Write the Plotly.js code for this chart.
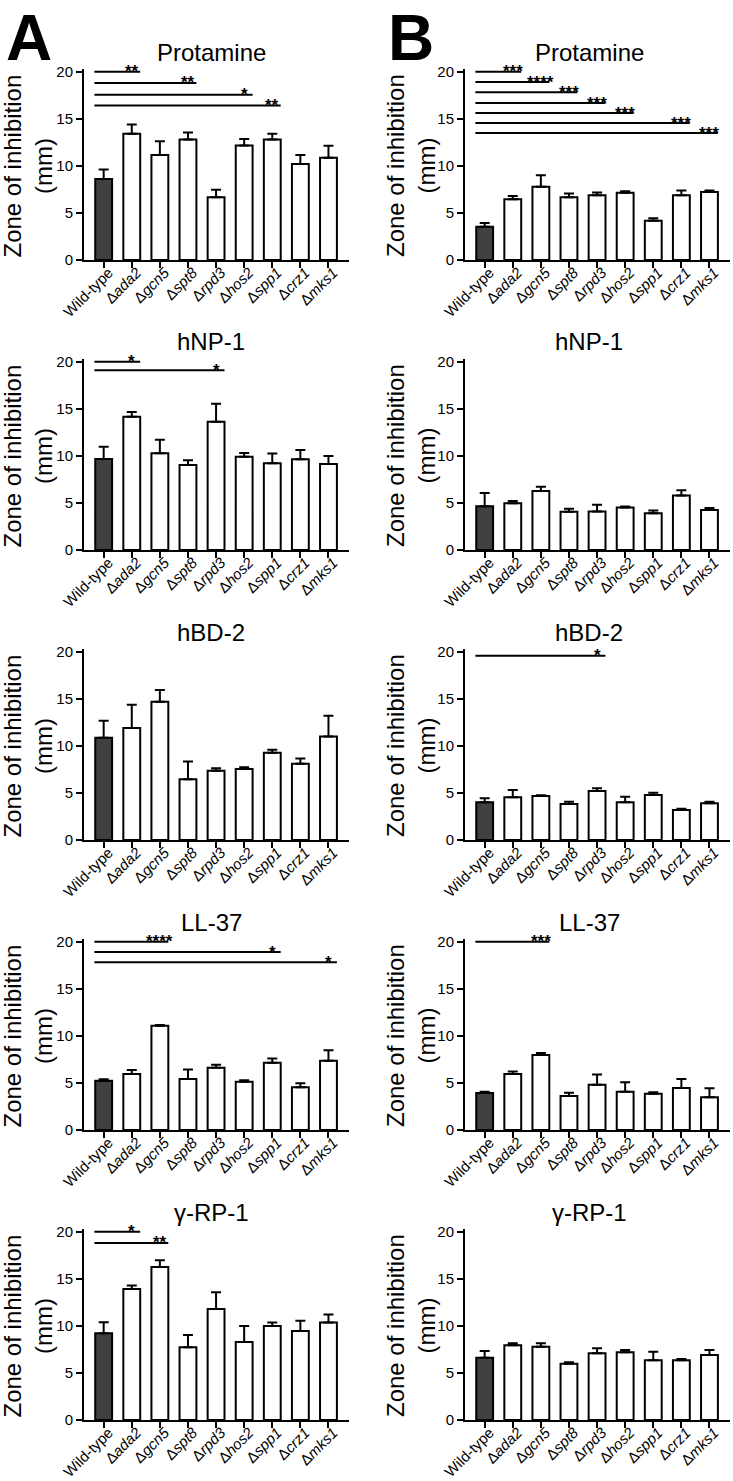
<!DOCTYPE html>
<html><head><meta charset="utf-8">
<script src="https://cdn.plot.ly/plotly-3.0.1.min.js"></script>
<style>html,body{margin:0;padding:0;background:#fff}</style>
</head><body><div id="chart" style="width:733px;height:1481px"></div>
<script>
// ---------- data ----------
const strainLabels = ['Wild-type','Δ<i>ada2</i>','Δ<i>gcn5</i>','Δ<i>spt8</i>','Δ<i>rpd3</i>','Δ<i>hos2</i>','Δ<i>spp1</i>','Δ<i>crz1</i>','Δ<i>mks1</i>'];
const peptides = ['Protamine','hNP-1','hBD-2','LL-37','γ-RP-1'];
const yTicks = [0,5,10,15,20];

// Panel A
const A_protamine     = [8.6, 13.4, 11.15, 12.8, 6.65, 12.15, 12.8, 10.2, 10.87];
const A_protamine_err = [1.0, 1.0, 1.45, 0.75, 0.8, 0.7, 0.6, 0.95, 1.25];
const A_hnp1          = [9.66, 14.16, 10.27, 9.03, 13.63, 9.9, 9.2, 9.63, 9.13];
const A_hnp1_err      = [1.3, 0.5, 1.45, 0.5, 1.9, 0.4, 1.05, 1.0, 0.85];
const A_hbd2          = [10.87, 11.9, 14.69, 6.44, 7.36, 7.54, 9.27, 8.1, 11.0];
const A_hbd2_err      = [1.8, 2.45, 1.25, 1.9, 0.25, 0.18, 0.3, 0.55, 2.2];
const A_ll37          = [5.24, 5.95, 11.08, 5.42, 6.62, 5.13, 7.15, 4.53, 7.36];
const A_ll37_err      = [0.14, 0.42, 0.07, 1.0, 0.32, 0.14, 0.43, 0.43, 1.1];
const A_grp1          = [9.2, 13.9, 16.25, 7.72, 11.79, 8.28, 9.98, 9.45, 10.34];
const A_grp1_err      = [1.17, 0.37, 0.71, 1.31, 1.77, 1.7, 0.36, 1.1, 0.85];

// Panel B
const B_protamine     = [3.54, 6.44, 7.79, 6.65, 6.87, 7.15, 4.18, 6.87, 7.22];
const B_protamine_err = [0.4, 0.35, 1.2, 0.4, 0.3, 0.15, 0.25, 0.5, 0.15];
const B_hnp1          = [4.64, 4.96, 6.27, 4.07, 4.1, 4.5, 3.9, 5.8, 4.25];
const B_hnp1_err      = [1.4, 0.25, 0.45, 0.3, 0.7, 0.12, 0.3, 0.55, 0.2];
const B_hbd2          = [4.0, 4.53, 4.67, 3.82, 5.2, 4.0, 4.78, 3.19, 3.9];
const B_hbd2_err      = [0.42, 0.78, 0.07, 0.25, 0.29, 0.6, 0.25, 0.14, 0.17];
const B_ll37          = [3.93, 5.95, 7.96, 3.61, 4.81, 4.07, 3.86, 4.46, 3.47];
const B_ll37_err      = [0.14, 0.25, 0.22, 0.35, 1.07, 1.0, 0.14, 0.96, 0.95];
const B_grp1          = [6.62, 7.93, 7.79, 5.98, 7.08, 7.19, 6.34, 6.34, 6.9];
const B_grp1_err      = [0.71, 0.21, 0.35, 0.14, 0.53, 0.24, 0.92, 0.14, 0.53];

// significance comparisons (vs wild-type): compared strain index, bracket level, stars
const A_protamine_sigTo = [1, 3, 5, 6];
const A_protamine_sigLv = [20, 18.8, 17.55, 16.4];
const A_protamine_sigSt = ['**', '**', '*', '**'];
const A_hnp1_sigTo = [1, 4];
const A_hnp1_sigLv = [20, 19.08];
const A_hnp1_sigSt = ['*', '*'];
const A_ll37_sigTo = [2, 6, 8];
const A_ll37_sigLv = [20, 18.9, 17.8];
const A_ll37_sigSt = ['****', '*', '*'];
const A_grp1_sigTo = [1, 2];
const A_grp1_sigLv = [20, 18.8];
const A_grp1_sigSt = ['*', '**'];
const B_protamine_sigTo = [1, 2, 3, 4, 5, 7, 8];
const B_protamine_sigLv = [20, 18.9, 17.8, 16.67, 15.6, 14.54, 13.48];
const B_protamine_sigSt = ['***', '****', '***', '***', '***', '***', '***'];
const B_hbd2_sigTo = [4];
const B_hbd2_sigLv = [19.57];
const B_hbd2_sigSt = ['*'];
const B_ll37_sigTo = [2];
const B_ll37_sigLv = [20];
const B_ll37_sigSt = ['***'];

// ---------- layout helpers ----------
const W = 733, H = 1481;
const FONT = 'Arial, "Liberation Sans", Helvetica, sans-serif';
const px = p => p / W;
const py = p => 1 - p / H;
const xRange = [-0.7, 8.72];
const yRange = [0, 20.3];
const pxPerUnitY = 9.417;
const colX = [[84, 348.7], [465, 729.7]];
const titleX = [211, 589];
const yTitleX = [27.5, 411];
const letterX = [29, 411];
const rowBottom = r => 260 + 290 * r;

const panels = [
  {col:0,row:0,v:A_protamine,e:A_protamine_err,to:A_protamine_sigTo,lv:A_protamine_sigLv,st:A_protamine_sigSt},
  {col:0,row:1,v:A_hnp1,e:A_hnp1_err,to:A_hnp1_sigTo,lv:A_hnp1_sigLv,st:A_hnp1_sigSt},
  {col:0,row:2,v:A_hbd2,e:A_hbd2_err,to:[],lv:[],st:[]},
  {col:0,row:3,v:A_ll37,e:A_ll37_err,to:A_ll37_sigTo,lv:A_ll37_sigLv,st:A_ll37_sigSt},
  {col:0,row:4,v:A_grp1,e:A_grp1_err,to:A_grp1_sigTo,lv:A_grp1_sigLv,st:A_grp1_sigSt},
  {col:1,row:0,v:B_protamine,e:B_protamine_err,to:B_protamine_sigTo,lv:B_protamine_sigLv,st:B_protamine_sigSt},
  {col:1,row:1,v:B_hnp1,e:B_hnp1_err,to:[],lv:[],st:[]},
  {col:1,row:2,v:B_hbd2,e:B_hbd2_err,to:B_hbd2_sigTo,lv:B_hbd2_sigLv,st:B_hbd2_sigSt},
  {col:1,row:3,v:B_ll37,e:B_ll37_err,to:B_ll37_sigTo,lv:B_ll37_sigLv,st:B_ll37_sigSt},
  {col:1,row:4,v:B_grp1,e:B_grp1_err,to:[],lv:[],st:[]}
];

const idx = strainLabels.map((_, i) => i);
const traces = [];
const layout = {
  width: W, height: H,
  margin: {l:0, r:0, t:0, b:0},
  paper_bgcolor: '#fff', plot_bgcolor: 'rgba(0,0,0,0)',
  showlegend: false,
  font: {family: FONT, color: '#000'},
  annotations: [], shapes: []
};

panels.forEach((p, k) => {
  const n = k + 1;
  const xa = 'x' + n, ya = 'y' + n;
  traces.push({
    type: 'bar', x: idx, y: p.v, xaxis: xa, yaxis: ya, width: 0.6,
    marker: {color: idx.map(i => i === 0 ? '#404040' : '#ffffff'), line: {color: '#000', width: 2}},
    error_y: {type: 'data', symmetric: false, array: p.e, arrayminus: p.e.map(() => 0),
              color: '#000', thickness: 2, width: 5},
    hoverinfo: 'none'
  });
  const bottom = rowBottom(p.row);
  const top = bottom - (yRange[1] - yRange[0]) * pxPerUnitY;
  layout['xaxis' + n] = {
    domain: [px(colX[p.col][0]), px(colX[p.col][1])], anchor: ya, range: xRange,
    tickmode: 'array', tickvals: idx, ticktext: strainLabels, tickangle: -45,
    ticks: 'outside', ticklen: 6, tickwidth: 2, tickcolor: '#000',
    ticklabelstandoff: -10, ticklabelshift: 5,
    showline: true, linewidth: 2, linecolor: '#000', showgrid: false, zeroline: false,
    tickfont: {size: 15, family: FONT, color: '#000'}, fixedrange: true
  };
  layout['yaxis' + n] = {
    domain: [py(bottom), py(top)], anchor: xa, range: yRange,
    tickmode: 'array', tickvals: yTicks, ticktext: yTicks.map(String),
    ticks: 'outside', ticklen: 6, tickwidth: 2, tickcolor: '#000',
    showline: true, linewidth: 2, linecolor: '#000', showgrid: false, zeroline: false,
    tickfont: {size: 15, family: FONT, color: '#000'}, fixedrange: true
  };
  // significance brackets
  p.to.forEach((t, j) => {
    layout.shapes.push({type: 'line', xref: xa, yref: ya, x0: -0.33, x1: t + 0.3,
      y0: p.lv[j], y1: p.lv[j], line: {color: '#000', width: 2}});
    layout.annotations.push({xref: xa, yref: ya, x: t, y: p.lv[j], text: '<b>' + p.st[j] + '</b>',
      showarrow: false, xanchor: 'center', yanchor: 'middle', yshift: 0,
      font: {size: 17, family: FONT, color: '#000'}});
  });
  // panel title
  layout.annotations.push({xref: 'paper', yref: 'paper', x: px(titleX[p.col]), y: py(52 + 290 * p.row),
    text: peptides[p.row], showarrow: false, xanchor: 'center', yanchor: 'middle',
    font: {size: 24, family: FONT, color: '#000'}});
  // y-axis title
  layout.annotations.push({xref: 'paper', yref: 'paper', x: px(yTitleX[p.col]), y: py(166 + 290 * p.row),
    text: 'Zone of inhibition<br>(mm)', showarrow: false, textangle: -90, xanchor: 'center', yanchor: 'middle',
    font: {size: 24, family: FONT, color: '#000'}});
});

// panel letters
['A', 'B'].forEach((L, c) => {
  layout.annotations.push({xref: 'paper', yref: 'paper', x: px(letterX[c]), y: 1,
    text: '<b>' + L + '</b>', showarrow: false, xanchor: 'center', yanchor: 'top',
    font: {size: 64, family: FONT, color: '#000'}});
});

Plotly.newPlot('chart', traces, layout, {staticPlot: true, displayModeBar: false});
</script>
</body></html>
